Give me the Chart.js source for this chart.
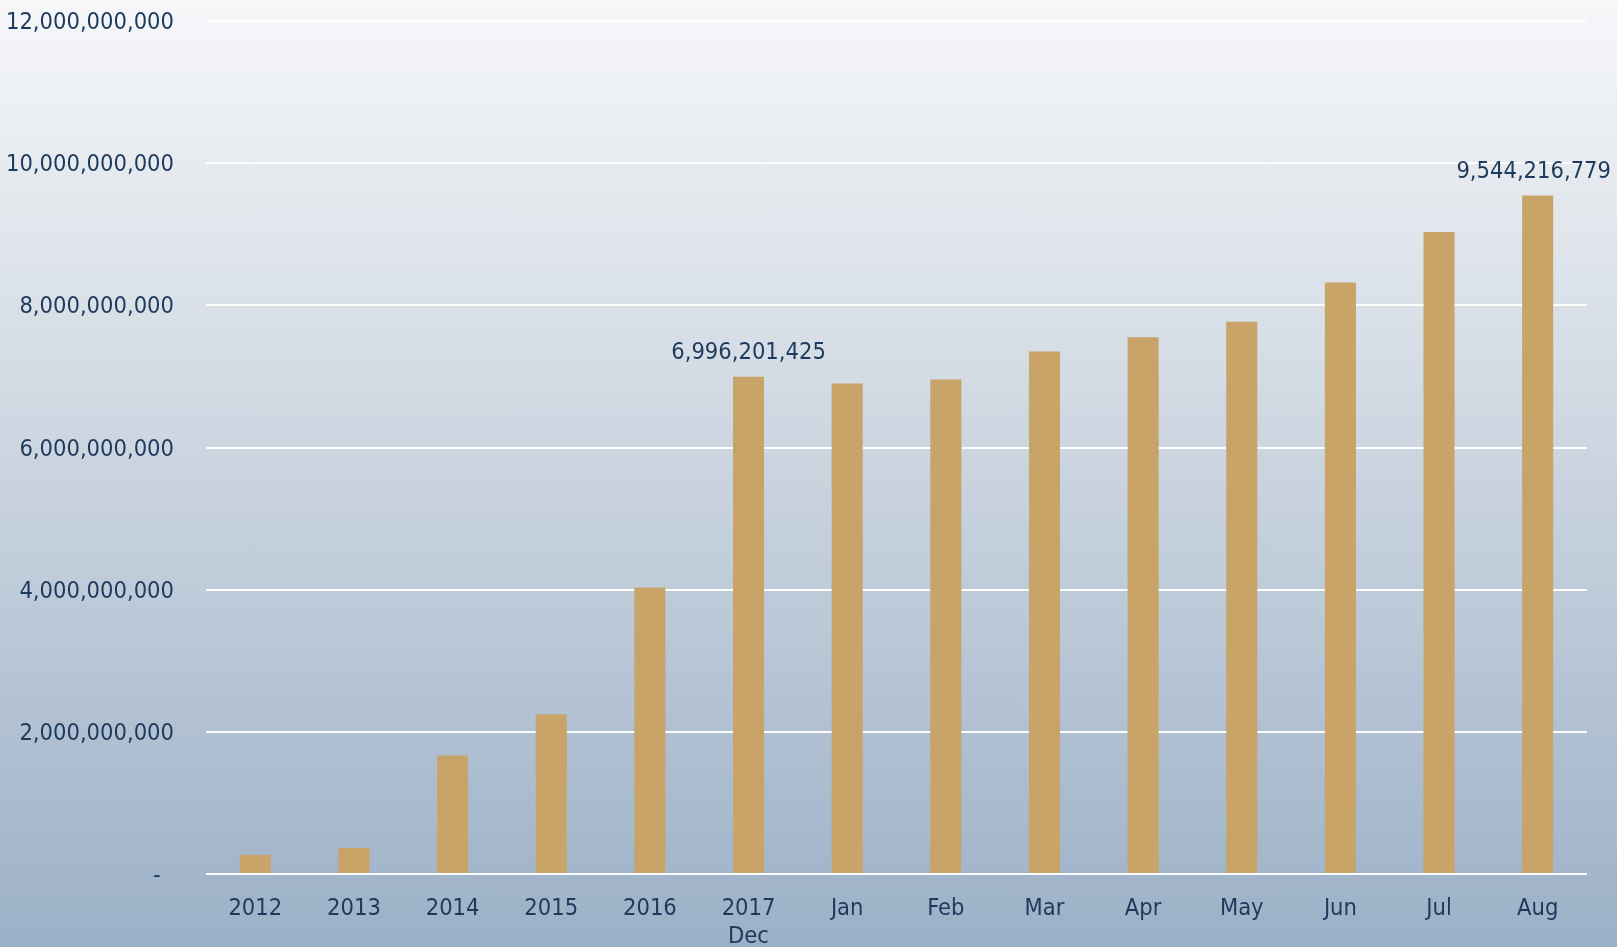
<!DOCTYPE html>
<html>
<head>
<meta charset="utf-8">
<script src="https://cdn.jsdelivr.net/npm/chart.js@4/dist/chart.umd.min.js"></script>
<style>
  html, body { margin: 0; padding: 0; }
  body {
    width: 1617px;
    height: 947px;
    overflow: hidden;
    background: linear-gradient(to bottom, #f6f7f9 0%, #d3dbe4 40%, #9bb0c7 100%);
  }
  #wrap { width: 1617px; height: 947px; }
</style>
</head>
<body>
<div id="wrap"><canvas id="bar-chart"></canvas></div>
<script>
const categories = [
  ['2012'], ['2013'], ['2014'], ['2015'], ['2016'], ['2017', 'Dec'],
  ['Jan'], ['Feb'], ['Mar'], ['Apr'], ['May'], ['Jun'], ['Jul'], ['Aug'],
];

const values = [
  270000000, 366000000, 1667000000, 2246000000, 4030000000, 6996201425,
  6900000000, 6957000000, 7350000000, 7550000000, 7770000000, 8320000000,
  9030000000, 9544216779,
];

// only these bars carry a value label
const labelledIndexes = [5, 13];

const yTicks = [0, 2000000000, 4000000000, 6000000000, 8000000000, 10000000000, 12000000000];

const textColor = '#1d3a5c';
const barColor = '#c8a469';
const fontFamily = '"DejaVu Sans Condensed", "DejaVu Sans", sans-serif';
const fontSize = 23.5;

const formatNumber = (value) => {
  if (value === 0) return '-  ';
  return Number(value).toLocaleString('en-US');
};

const valueLabels = {
  id: 'valueLabels',
  afterDatasetsDraw(chart) {
    const ctx = chart.ctx;
    const meta = chart.getDatasetMeta(0);
    ctx.save();
    ctx.font = fontSize + 'px ' + fontFamily;
    ctx.fillStyle = textColor;
    ctx.textAlign = 'center';
    ctx.textBaseline = 'middle';
    labelledIndexes.forEach((i) => {
      const bar = meta.data[i];
      const text = formatNumber(values[i]);
      const half = ctx.measureText(text).width / 2;
      let x = bar.x;
      if (x + half > chart.width - 6) x = chart.width - 6 - half;
      ctx.fillText(text, x, bar.y - 24);
    });
    ctx.restore();
  },
};

(function () {
  new Chart(document.getElementById('bar-chart'), {
    type: 'bar',
    data: {
      labels: categories,
      datasets: [
        {
          label: 'Value',
          data: values,
          backgroundColor: barColor,
          borderWidth: 0,
          categoryPercentage: 1,
          barPercentage: 0.315,
        },
      ],
    },
    options: {
      responsive: true,
      maintainAspectRatio: false,
      animation: false,
      layout: {
        padding: { top: 21, right: 30, bottom: 0, left: 0 },
      },
      scales: {
        y: {
          min: 0,
          max: 12000000000,
          afterFit: (scale) => {
            scale.width = 206;
            scale.paddingTop = 0;
            scale.paddingBottom = 0;
          },
          afterBuildTicks: (scale) => {
            scale.ticks = yTicks.map((v) => ({ value: v }));
          },
          grid: {
            color: 'rgba(255, 255, 255, 0.95)',
            lineWidth: 2,
            drawTicks: false,
          },
          border: { display: false },
          ticks: {
            padding: 32,
            labelOffset: 2,
            color: textColor,
            font: { family: fontFamily, size: fontSize },
            callback: (value) => formatNumber(value),
          },
        },
        x: {
          afterFit: (scale) => { scale.height = 73; },
          grid: { display: false },
          border: { display: false },
          ticks: {
            padding: 13,
            color: textColor,
            font: { family: fontFamily, size: fontSize, lineHeight: 1.2 },
            maxRotation: 0,
            autoSkip: false,
          },
        },
      },
      plugins: {
        legend: { display: false },
        tooltip: { enabled: false },
      },
    },
    plugins: [valueLabels],
  });
})();
</script>
</body>
</html>
